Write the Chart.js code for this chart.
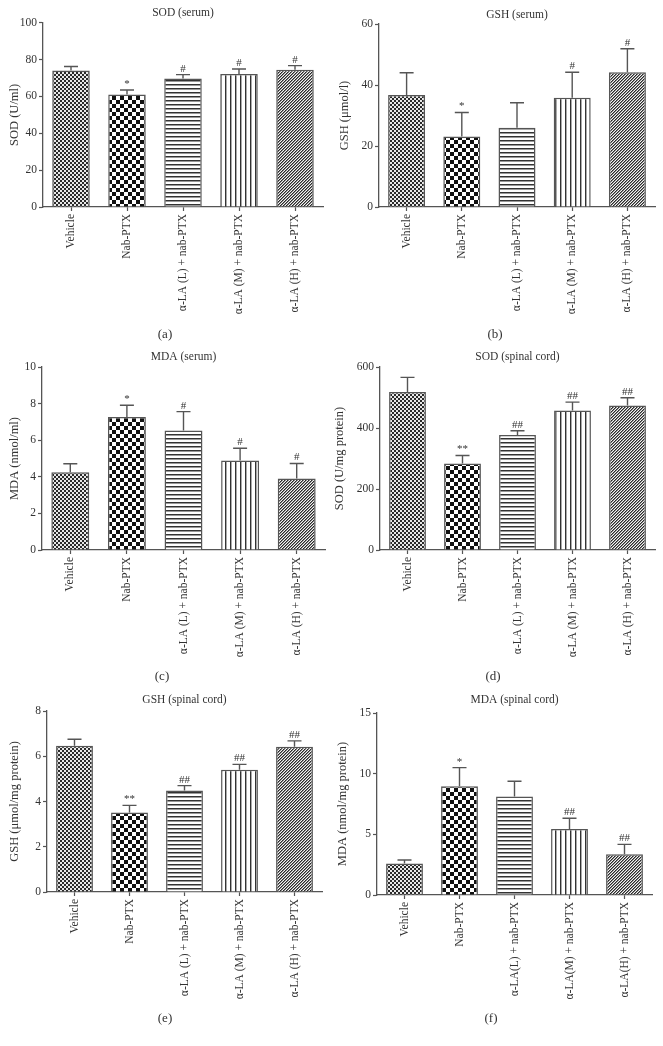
<!DOCTYPE html>
<html>
<head>
<meta charset="utf-8">
<script src="https://cdn.jsdelivr.net/npm/chart.js@4.4.1/dist/chart.umd.min.js"></script>
<style>
  html, body { margin: 0; padding: 0; background: #fff; }
  body { width: 663px; height: 1046px; position: relative; overflow: hidden; }
  canvas { position: absolute; }
</style>
</head>
<body>
<script>
// groups on the x axis
const groups = ['Vehicle', 'Nab-PTX', 'α-LA (L) + nab-PTX', 'α-LA (M) + nab-PTX', 'α-LA (H) + nab-PTX'];
const groupsF = ['Vehicle', 'Nab-PTX', 'α-LA(L) + nab-PTX', 'α-LA(M) + nab-PTX', 'α-LA(H) + nab-PTX'];

// (a) SOD serum
const sodSerum = [74.0, 61.0, 69.7, 72.2, 74.5];
const sodSerumErr = [2.2, 2.5, 2.1, 2.7, 2.2];
const sodSerumSig = ['', '*', '#', '#', '#'];
const sodSerumTicks = [0, 20, 40, 60, 80, 100];

// (b) GSH serum
const gshSerum = [36.7, 23.1, 26.0, 35.8, 44.2];
const gshSerumErr = [7.3, 7.9, 8.2, 8.4, 7.7];
const gshSerumSig = ['', '*', '', '#', '#'];
const gshSerumTicks = [0, 20, 40, 60];

// (c) MDA serum
const mdaSerum = [4.25, 7.27, 6.53, 4.89, 3.91];
const mdaSerumErr = [0.46, 0.64, 1.03, 0.67, 0.82];
const mdaSerumSig = ['', '*', '#', '#', '#'];
const mdaSerumTicks = [0, 2, 4, 6, 8, 10];

// (d) SOD spinal cord
const sodCord = [518, 284, 377, 457, 474];
const sodCordErr = [48, 26, 14, 28, 25];
const sodCordSig = ['', '**', '##', '##', '##'];
const sodCordTicks = [0, 200, 400, 600];

// (e) GSH spinal cord
const gshCord = [6.46, 3.51, 4.49, 5.40, 6.42];
const gshCordErr = [0.29, 0.32, 0.21, 0.24, 0.26];
const gshCordSig = ['', '**', '##', '##', '##'];
const gshCordTicks = [0, 2, 4, 6, 8];

// (f) MDA spinal cord
const mdaCord = [2.60, 8.97, 8.12, 5.43, 3.35];
const mdaCordErr = [0.28, 1.53, 1.26, 0.90, 0.82];
const mdaCordSig = ['', '*', '', '##', '##'];
const mdaCordTicks = [0, 5, 10, 15];

const SERIF = '"Liberation Serif", "DejaVu Serif", serif';
const INK = '#333';
const LINE = '#555';

function tile(w, h, paint) {
  const c = document.createElement('canvas');
  c.width = w; c.height = h;
  const g = c.getContext('2d');
  paint(g);
  return g.createPattern(c, 'repeat');
}

function makePatterns() {
  const fine = tile(4, 4, g => {
    g.fillStyle = '#e8e8e8'; g.fillRect(0, 0, 4, 4);
    g.fillStyle = '#2a2a2a'; g.fillRect(0, 0, 2, 2); g.fillRect(2, 2, 2, 2);
  });
  const checker = tile(8, 8, g => {
    g.fillStyle = '#fff'; g.fillRect(0, 0, 8, 8);
    g.fillStyle = '#111'; g.fillRect(0, 0, 4, 4); g.fillRect(4, 4, 4, 4);
  });
  const horiz = tile(4, 4, g => {
    g.fillStyle = '#fff'; g.fillRect(0, 0, 4, 4);
    g.fillStyle = '#333'; g.fillRect(0, 0, 4, 1);
    g.fillStyle = '#999'; g.fillRect(0, 1, 4, 1);
  });
  const vert = tile(5, 5, g => {
    g.fillStyle = '#fff'; g.fillRect(0, 0, 5, 5);
    g.fillStyle = '#333'; g.fillRect(0, 0, 1, 5);
    g.fillStyle = '#aaa'; g.fillRect(1, 0, 1, 5);
  });
  const diag = tile(3, 3, g => {
    g.fillStyle = '#f4f4f4'; g.fillRect(0, 0, 3, 3);
    for (let i = 0; i < 3; i++) {
      g.fillStyle = '#2a2a2a'; g.fillRect(2 - i, i, 1, 1);
      g.fillStyle = '#888'; g.fillRect((3 - i) % 3, i, 1, 1);
    }
  });
  return [fine, checker, horiz, vert, diag];
}

// error bars (upward only), significance marks and the panel letter
const errorBars = {
  id: 'errorBars',
  afterDatasetsDraw(chart) {
    const ctx = chart.ctx;
    const y = chart.scales.y;
    const ds = chart.data.datasets[0];
    const meta = chart.getDatasetMeta(0);
    ctx.save();
    ctx.strokeStyle = LINE;
    ctx.lineWidth = 1.4;
    ctx.fillStyle = INK;
    ctx.font = '11px ' + SERIF;
    ctx.textAlign = 'center';
    ctx.textBaseline = 'alphabetic';
    meta.data.forEach((bar, i) => {
      const top = y.getPixelForValue(ds.data[i] + ds.errors[i]);
      ctx.beginPath();
      ctx.moveTo(bar.x, bar.y);
      ctx.lineTo(bar.x, top);
      ctx.moveTo(bar.x - 7, top);
      ctx.lineTo(bar.x + 7, top);
      ctx.stroke();
      if (ds.marks[i]) ctx.fillText(ds.marks[i], bar.x, top - 3);
    });
    ctx.restore();
  },
  afterDraw(chart) {
    const t = chart.data.datasets[0].tag;
    const ctx = chart.ctx;
    ctx.save();
    ctx.fillStyle = INK;
    ctx.font = '13px ' + SERIF;
    ctx.textAlign = 'center';
    ctx.textBaseline = 'middle';
    ctx.fillText(t.text, t.x, t.y);
    ctx.restore();
  }
};

const panels = [
  { tag: '(a)', title: 'SOD (serum)', yLabel: 'SOD (U/ml)', labels: groups,
    values: sodSerum, errors: sodSerumErr, marks: sodSerumSig, ticks: sodSerumTicks,
    box: { x: 0, y: 0, w: 330 }, area: { left: 43, top: 22.7, right: 323, bottom: 207 },
    titleY: 13, yTitleX: 15, tagAt: [165, 335] },
  { tag: '(b)', title: 'GSH (serum)', yLabel: 'GSH (μmol/l)', labels: groups,
    values: gshSerum, errors: gshSerumErr, marks: gshSerumSig, ticks: gshSerumTicks,
    box: { x: 330, y: 0, w: 333 }, area: { left: 379, top: 24, right: 655, bottom: 207 },
    titleY: 15, yTitleX: 345, tagAt: [495, 335] },
  { tag: '(c)', title: 'MDA (serum)', yLabel: 'MDA (nmol/ml)', labels: groups,
    values: mdaSerum, errors: mdaSerumErr, marks: mdaSerumSig, ticks: mdaSerumTicks,
    box: { x: 0, y: 342, w: 330 }, area: { left: 42, top: 367, right: 325, bottom: 550 },
    titleY: 357, yTitleX: 15, tagAt: [162, 677] },
  { tag: '(d)', title: 'SOD (spinal cord)', yLabel: 'SOD (U/mg protein)', labels: groups,
    values: sodCord, errors: sodCordErr, marks: sodCordSig, ticks: sodCordTicks,
    box: { x: 330, y: 342, w: 333 }, area: { left: 380, top: 367, right: 655, bottom: 550 },
    titleY: 357, yTitleX: 340, tagAt: [493, 677] },
  { tag: '(e)', title: 'GSH (spinal cord)', yLabel: 'GSH (μmol/mg protein)', labels: groups,
    values: gshCord, errors: gshCordErr, marks: gshCordSig, ticks: gshCordTicks,
    box: { x: 0, y: 688, w: 330 }, area: { left: 47, top: 711, right: 322, bottom: 892 },
    titleY: 700, yTitleX: 15, tagAt: [165, 1019] },
  { tag: '(f)', title: 'MDA (spinal cord)', yLabel: 'MDA (nmol/mg protein)', labels: groupsF,
    values: mdaCord, errors: mdaCordErr, marks: mdaCordSig, ticks: mdaCordTicks,
    box: { x: 330, y: 688, w: 333 }, area: { left: 377, top: 713, right: 652, bottom: 895 },
    titleY: 700, yTitleX: 343, tagAt: [491, 1019] },
];

const patterns = makePatterns();

function makeChart(p) {
  const h = p.tagAt[1] - p.box.y + 10;
  const c = document.createElement('canvas');
  c.width = p.box.w; c.height = h;
  c.style.left = p.box.x + 'px'; c.style.top = p.box.y + 'px';
  c.style.width = p.box.w + 'px'; c.style.height = h + 'px';
  document.body.appendChild(c);

  const titleSize = 11.5, yTitleSize = 12.5;
  const tlh = titleSize * 1.2, ylh = yTitleSize * 1.2;

  new Chart(c, {
    type: 'bar',
    data: {
      labels: p.labels,
      datasets: [{
        data: p.values,
        errors: p.errors,
        marks: p.marks,
        tag: { text: p.tag, x: p.tagAt[0] - p.box.x, y: p.tagAt[1] - p.box.y },
        backgroundColor: patterns,
        borderColor: LINE,
        borderWidth: 1.5,
        borderSkipped: 'bottom',
        barPercentage: 0.67,
        categoryPercentage: 1
      }]
    },
    options: {
      responsive: false,
      animation: false,
      devicePixelRatio: 1,
      layout: { padding: { left: 0, top: 0, bottom: 0, right: p.box.x + p.box.w - p.area.right } },
      plugins: {
        legend: { display: false },
        tooltip: { enabled: false },
        title: {
          display: true, text: p.title, fullSize: false, color: INK,
          font: { family: SERIF, size: titleSize, weight: 'normal' },
          padding: { top: p.titleY - p.box.y - tlh / 2, bottom: p.area.top - p.titleY - tlh / 2 }
        }
      },
      scales: {
        x: {
          grid: { drawOnChartArea: false, offset: false, tickLength: 4, color: LINE, tickColor: LINE, tickWidth: 1.2 },
          border: { color: LINE, width: 1.3 },
          ticks: { minRotation: 90, maxRotation: 90, autoSkip: false, padding: 3, color: INK,
                   font: { family: SERIF, size: 11.5 } },
          afterFit: s => { s.height = p.box.y + h - p.area.bottom; }
        },
        y: {
          min: p.ticks[0],
          max: p.ticks[p.ticks.length - 1],
          ticks: { stepSize: p.ticks[1] - p.ticks[0], padding: 2, color: INK, font: { family: SERIF, size: 11.5 } },
          grid: { drawOnChartArea: false, tickLength: 4, color: LINE, tickColor: LINE, tickWidth: 1.2 },
          border: { color: LINE, width: 1.3 },
          title: {
            display: true, text: p.yLabel, color: INK,
            font: { family: SERIF, size: yTitleSize },
            padding: { top: p.yTitleX - p.box.x - ylh / 2, bottom: 0 }
          },
          afterFit: s => { s.width = p.area.left - p.box.x; }
        }
      }
    },
    plugins: [errorBars]
  });
}

panels.forEach(makeChart);
</script>
</body>
</html>
